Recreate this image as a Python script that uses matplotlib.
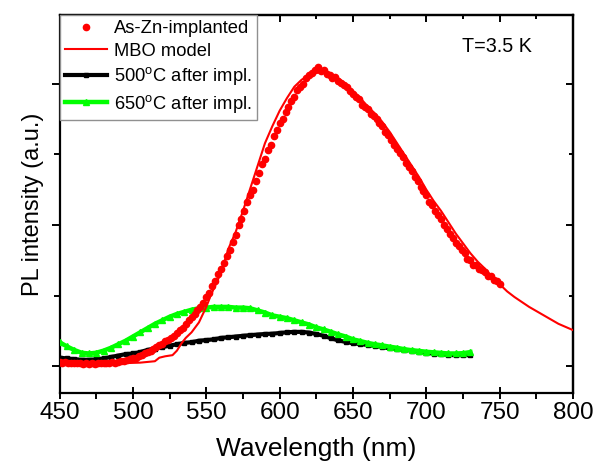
import matplotlib
matplotlib.use("Agg")
import matplotlib.pyplot as plt
from matplotlib.ticker import MultipleLocator, NullFormatter

plt.rcParams['font.family'] = ['Liberation Sans', 'DejaVu Sans']
plt.rcParams['mathtext.fontset'] = 'custom'
plt.rcParams['mathtext.rm'] = 'Liberation Sans'

# ---- data ----
dots_wl = list(range(450, 752, 2))
dots_pl = [
    0.03, 0.025, 0.03, 0.02, 0.025, 0.02, 0.025, 0.02, 0.015, 0.02,
    0.015, 0.02, 0.015, 0.02, 0.02, 0.025, 0.02, 0.025, 0.03, 0.025,
    0.03, 0.035, 0.04, 0.045, 0.05, 0.055, 0.06, 0.07, 0.08, 0.09,
    0.10, 0.11, 0.125, 0.135, 0.15, 0.16, 0.175, 0.185, 0.20, 0.215,
    0.235, 0.255, 0.27, 0.30, 0.33, 0.35, 0.37, 0.40, 0.42, 0.45,
    0.49, 0.52, 0.57, 0.60, 0.65, 0.69, 0.73, 0.78, 0.82, 0.88,
    0.93, 1.00, 1.04, 1.10, 1.16, 1.21, 1.25, 1.31, 1.37, 1.43,
    1.47, 1.53, 1.57, 1.63, 1.67, 1.72, 1.75, 1.80, 1.84, 1.88,
    1.91, 1.96, 1.98, 2.00, 2.04, 2.06, 2.08, 2.10, 2.12, 2.09,
    2.10, 2.07, 2.06, 2.04, 2.05, 2.02, 2.01, 1.99, 1.98, 1.95,
    1.93, 1.91, 1.89, 1.85, 1.84, 1.82, 1.79, 1.77, 1.75, 1.72,
    1.70, 1.66, 1.64, 1.60, 1.57, 1.54, 1.51, 1.48, 1.44, 1.41,
    1.38, 1.34, 1.31, 1.27, 1.24, 1.21, 1.16, 1.14, 1.10, 1.07,
    1.04, 1.00, 0.97, 0.94, 0.91, 0.87, 0.85, 0.82, 0.80, 0.76,
    0.75, 0.72, 0.72, 0.69, 0.68, 0.67, 0.64, 0.64, 0.61, 0.60,
    0.58, 0.57,
][:len(dots_wl)]

model_wl = [450, 470, 490, 505, 515, 518, 522, 527, 530, 533, 536, 540, 545,
            550, 553, 556, 560, 565, 570, 575, 580, 585, 590, 595, 600, 605,
            610, 615, 620, 625, 630, 635, 640, 645, 650, 655, 660, 665, 670,
            675, 680, 685, 690, 695, 700, 705, 710, 715, 720, 725, 730, 735,
            740, 745, 750, 755, 760, 770, 780, 790, 800]
model_pl = [0.02, 0.02, 0.02, 0.025, 0.035, 0.06, 0.07, 0.078, 0.11, 0.16,
            0.20, 0.24, 0.31, 0.42, 0.50, 0.57, 0.66, 0.83, 0.95, 1.10, 1.26,
            1.42, 1.58, 1.70, 1.81, 1.90, 1.98, 2.03, 2.06, 2.08, 2.08, 2.07,
            2.04, 2.00, 1.95, 1.90, 1.84, 1.79, 1.73, 1.66, 1.58, 1.50, 1.42,
            1.34, 1.25, 1.17, 1.10, 1.02, 0.94, 0.87, 0.80, 0.74, 0.69, 0.63,
            0.58, 0.53, 0.49, 0.42, 0.36, 0.30, 0.255]

ann_wl = list(range(450, 735, 5))
black_pl = [0.06, 0.055, 0.05, 0.045, 0.045, 0.048, 0.055, 0.065, 0.075, 0.085,
            0.09, 0.10, 0.115, 0.125, 0.135, 0.145, 0.155, 0.165, 0.17, 0.18,
            0.185, 0.19, 0.20, 0.205, 0.21, 0.215, 0.22, 0.224, 0.228, 0.23,
            0.235, 0.24, 0.243, 0.243, 0.238, 0.228, 0.215, 0.198, 0.182, 0.172,
            0.162, 0.156, 0.15, 0.143, 0.135, 0.126, 0.12, 0.115, 0.11, 0.103,
            0.095, 0.088, 0.083, 0.079, 0.078, 0.078, 0.078]
green_pl = [0.17, 0.14, 0.115, 0.095, 0.09, 0.095, 0.11, 0.13, 0.155, 0.18,
            0.21, 0.24, 0.27, 0.30, 0.325, 0.35, 0.37, 0.385, 0.40, 0.41,
            0.415, 0.42, 0.42, 0.42, 0.415, 0.415, 0.41, 0.395, 0.38, 0.36,
            0.35, 0.34, 0.325, 0.31, 0.295, 0.275, 0.26, 0.243, 0.225, 0.21,
            0.19, 0.178, 0.165, 0.155, 0.147, 0.138, 0.13, 0.12, 0.113, 0.108,
            0.102, 0.098, 0.094, 0.09, 0.09, 0.092, 0.10]

labels = ["As-Zn-implanted", "MBO model",
          r"500$^{\mathrm{o}}$C after impl.", r"650$^{\mathrm{o}}$C after impl."]

# ---- figure ----
fig = plt.figure(figsize=(6.03, 4.62), dpi=100)
ax = fig.add_axes([0.0987, 0.1494, 0.9505 - 0.0987, 0.968 - 0.1494])

l3, = ax.plot(ann_wl, black_pl, color='black', lw=3.0, marker='s', ms=3.5,
              label=labels[2], zorder=2)
l4, = ax.plot(ann_wl, green_pl, color='#00ff00', lw=3.2, marker='^', ms=4,
              label=labels[3], zorder=3)
l2, = ax.plot(model_wl, model_pl, color='#ff0000', lw=1.5, label=labels[1], zorder=4)
l1, = ax.plot(dots_wl, dots_pl, color='#ff0000', ls='none', marker='o', ms=4.5,
              label=labels[0], zorder=5)

ax.set_xlim(450, 800)
ax.set_ylim(-0.19, 2.49)

ax.xaxis.set_major_locator(MultipleLocator(50))
ax.xaxis.set_minor_locator(MultipleLocator(25))
ax.yaxis.set_major_locator(MultipleLocator(1))
ax.yaxis.set_minor_locator(MultipleLocator(0.5))
ax.yaxis.set_major_formatter(NullFormatter())

ax.tick_params(axis='x', which='major', direction='inout', length=9, width=1.4,
               labelsize=17.5, pad=2, top=False)
ax.tick_params(axis='x', which='minor', direction='out', length=4, width=1.4, top=False)
ax.tick_params(axis='y', which='major', direction='out', length=6, width=1.4,
               right=False)
ax.tick_params(axis='y', which='minor', direction='out', length=4, width=1.4,
               right=False)

# inward ticks on the top and right frame
axt = ax.secondary_xaxis('top')
axt.xaxis.set_major_locator(MultipleLocator(50))
axt.xaxis.set_minor_locator(MultipleLocator(25))
axt.tick_params(which='both', direction='in', width=1.4, labeltop=False)
axt.tick_params(which='major', length=5)
axt.tick_params(which='minor', length=3)
axr = ax.secondary_yaxis('right')
axr.yaxis.set_major_locator(MultipleLocator(1))
axr.yaxis.set_minor_locator(MultipleLocator(0.5))
axr.tick_params(which='both', direction='in', width=1.4, labelright=False)
axr.tick_params(which='major', length=5)
axr.tick_params(which='minor', length=3)

for a in (ax, axt, axr):
    for sp in a.spines.values():
        sp.set_linewidth(1.6)

ax.set_xlabel("Wavelength (nm)", fontsize=19, labelpad=9)
ax.set_ylabel("PL intensity (a.u.)", fontsize=17, labelpad=2)

ax.text(0.92, 0.915, "T=3.5 K", transform=ax.transAxes, ha='right', va='center',
        fontsize=14.2)

leg = ax.legend(handles=[l1, l2, l3, l4], loc='upper left', bbox_to_anchor=(0, 1),
                borderaxespad=0, fontsize=13.2, handlelength=2.3, handletextpad=0.35,
                labelspacing=0.3, borderpad=0.3, fancybox=False, framealpha=1,
                edgecolor='#909090', numpoints=1)
leg.get_frame().set_linewidth(1.0)

fig.savefig("out.png", dpi=100)
